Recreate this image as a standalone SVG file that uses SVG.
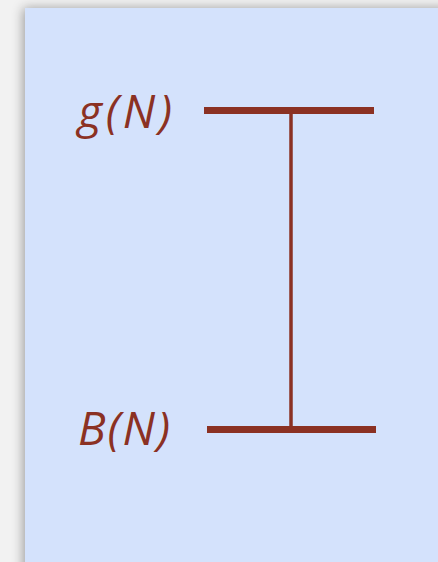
<svg xmlns="http://www.w3.org/2000/svg" width="438" height="562" viewBox="0 0 438 562">
<defs>
<filter id="sh" x="-20%" y="-20%" width="140%" height="140%">
<feGaussianBlur in="SourceAlpha" stdDeviation="6"/>
<feOffset dx="-2" dy="0"/>
<feComponentTransfer><feFuncA type="linear" slope="0.35"/></feComponentTransfer>
<feMerge><feMergeNode/><feMergeNode in="SourceGraphic"/></feMerge>
</filter>
</defs>
<style>
.lbl{font-family:"Open Sans","Noto Sans",sans-serif;font-style:italic;font-size:46px;fill:#8b3123}
.bar{stroke:#8b3123;stroke-width:7;fill:none}
.stem{stroke:#8b3123;stroke-width:3.5;fill:none}
</style>
<rect width="438" height="562" fill="#f2f2f2"/>
<rect x="25" y="8" width="440" height="580" fill="#d4e2fc" filter="url(#sh)"/>
<g id="connectors">
<line class="stem" x1="291" y1="110" x2="291" y2="430"/>
</g>
<g id="gN">
<line class="bar" x1="204" y1="110.5" x2="374" y2="110.5"/>
<text class="lbl" x="78" y="128" textLength="94" lengthAdjust="spacing">g(N)</text>
</g>
<g id="BN">
<line class="bar" x1="207" y1="429.5" x2="376" y2="429.5"/>
<text class="lbl" x="78" y="445" textLength="92" lengthAdjust="spacing">B(N)</text>
</g>
</svg>
